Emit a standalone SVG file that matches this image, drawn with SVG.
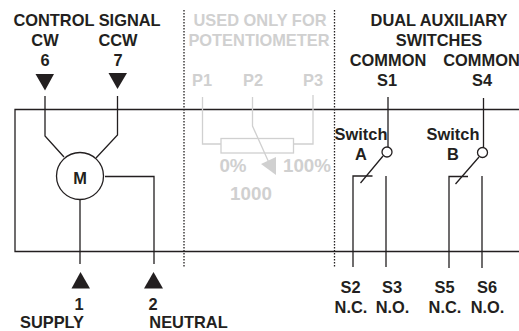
<svg xmlns="http://www.w3.org/2000/svg" width="519" height="331" viewBox="0 0 519 331">
<style>
text{font-family:"Liberation Sans",Arial,sans-serif;font-weight:700;font-size:16.4px;fill:#231f20;text-anchor:middle}
.g text{fill:#d0d0d0}
.g text.b{font-size:18.8px}
.l{fill:none;stroke:#231f20;stroke-width:1.3}
.lg{fill:none;stroke:#d0d0d0;stroke-width:1.3}
.d{fill:none;stroke:#231f20;stroke-width:1.3;stroke-dasharray:1.5 1.5}
.a{fill:#231f20}
</style>
<rect width="519" height="331" fill="#fff"/>
<g id="connectors">
<path class="l" d="M519 109.500H15V251.500H519"/>
<path class="d" d="M184 10V268M334.500 10V268"/>
<path class="l" d="M45 96V136L64 157M117.500 96V135L96 158"/>
<path class="l" d="M80 198V264M105 176.500H154V264"/>
<path class="l" d="M388 97V147M483.500 98V147"/>
<path class="l" d="M353 267V176H372.500M386 176V267M449 268V176.500H468M482 176V268"/>
<path class="l" d="M383 156L360.500 183M479 157L455.500 184"/>
</g>
<g id="control-signal">
<text x="87" y="25.500">CONTROL SIGNAL</text>
<text x="45" y="45.500">CW</text><text x="118" y="45.500">CCW</text>
<text x="45" y="66">6</text><text x="118" y="66">7</text>
<path class="a" d="M35.500 74H54L45 90.500ZM108.500 73H127L117.500 89Z"/>
</g>
<g id="motor">
<circle cx="80" cy="176" r="23.500" fill="#fff" stroke="#231f20" stroke-width="1.300"/>
<text x="80" y="184">M</text>
</g>
<g id="terminal-1">
<path class="a" d="M71.500 288.500H90L80.500 272Z"/>
<text x="79" y="310">1</text><text x="52" y="328">SUPPLY</text>
</g>
<g id="terminal-2">
<path class="a" d="M144 288.500H163L153.500 272Z"/>
<text x="153" y="310">2</text><text x="188.500" y="328">NEUTRAL</text>
</g>
<g id="potentiometer" class="g">
<text x="260" y="25.500">USED ONLY FOR</text>
<text x="259" y="45.500">POTENTIOMETER</text>
<text x="202" y="86">P1</text><text x="253" y="86">P2</text><text x="313" y="86">P3</text>
<path class="lg" d="M202.500 97V144H221M293 144H313V95"/>
<rect class="lg" x="221" y="138.500" width="72.500" height="14.500"/>
<path class="lg" d="M252.500 97V126L270 165"/>
<path d="M261 164L276 157V175Z" fill="#d0d0d0"/>
<text class="b" x="233" y="172">0%</text><text class="b" x="307" y="172">100%</text>
<text class="b" x="251" y="200">1000</text>
</g>
<g id="switch-a">
<text x="361" y="140">Switch</text><text x="361" y="160">A</text>
<circle cx="387" cy="152" r="5" fill="#fff" stroke="#231f20" stroke-width="1.300"/>
</g>
<g id="switch-b">
<text x="453" y="140">Switch</text><text x="453" y="160">B</text>
<circle cx="482.500" cy="152.500" r="5" fill="#fff" stroke="#231f20" stroke-width="1.300"/>
</g>
<g id="aux-switches">
<text x="439" y="25.500">DUAL AUXILIARY</text><text x="439" y="45.500">SWITCHES</text>
<text x="388" y="65.500">COMMON</text><text x="481.500" y="65.500">COMMON</text>
<text x="387" y="86">S1</text><text x="482" y="86">S4</text>
<text x="350.500" y="293">S2</text><text x="392" y="293">S3</text><text x="444.500" y="293">S5</text><text x="487" y="293">S6</text>
<text x="351" y="313">N.C.</text><text x="392.500" y="313">N.O.</text><text x="445" y="313">N.C.</text><text x="487.500" y="313">N.O.</text>
</g>
</svg>
